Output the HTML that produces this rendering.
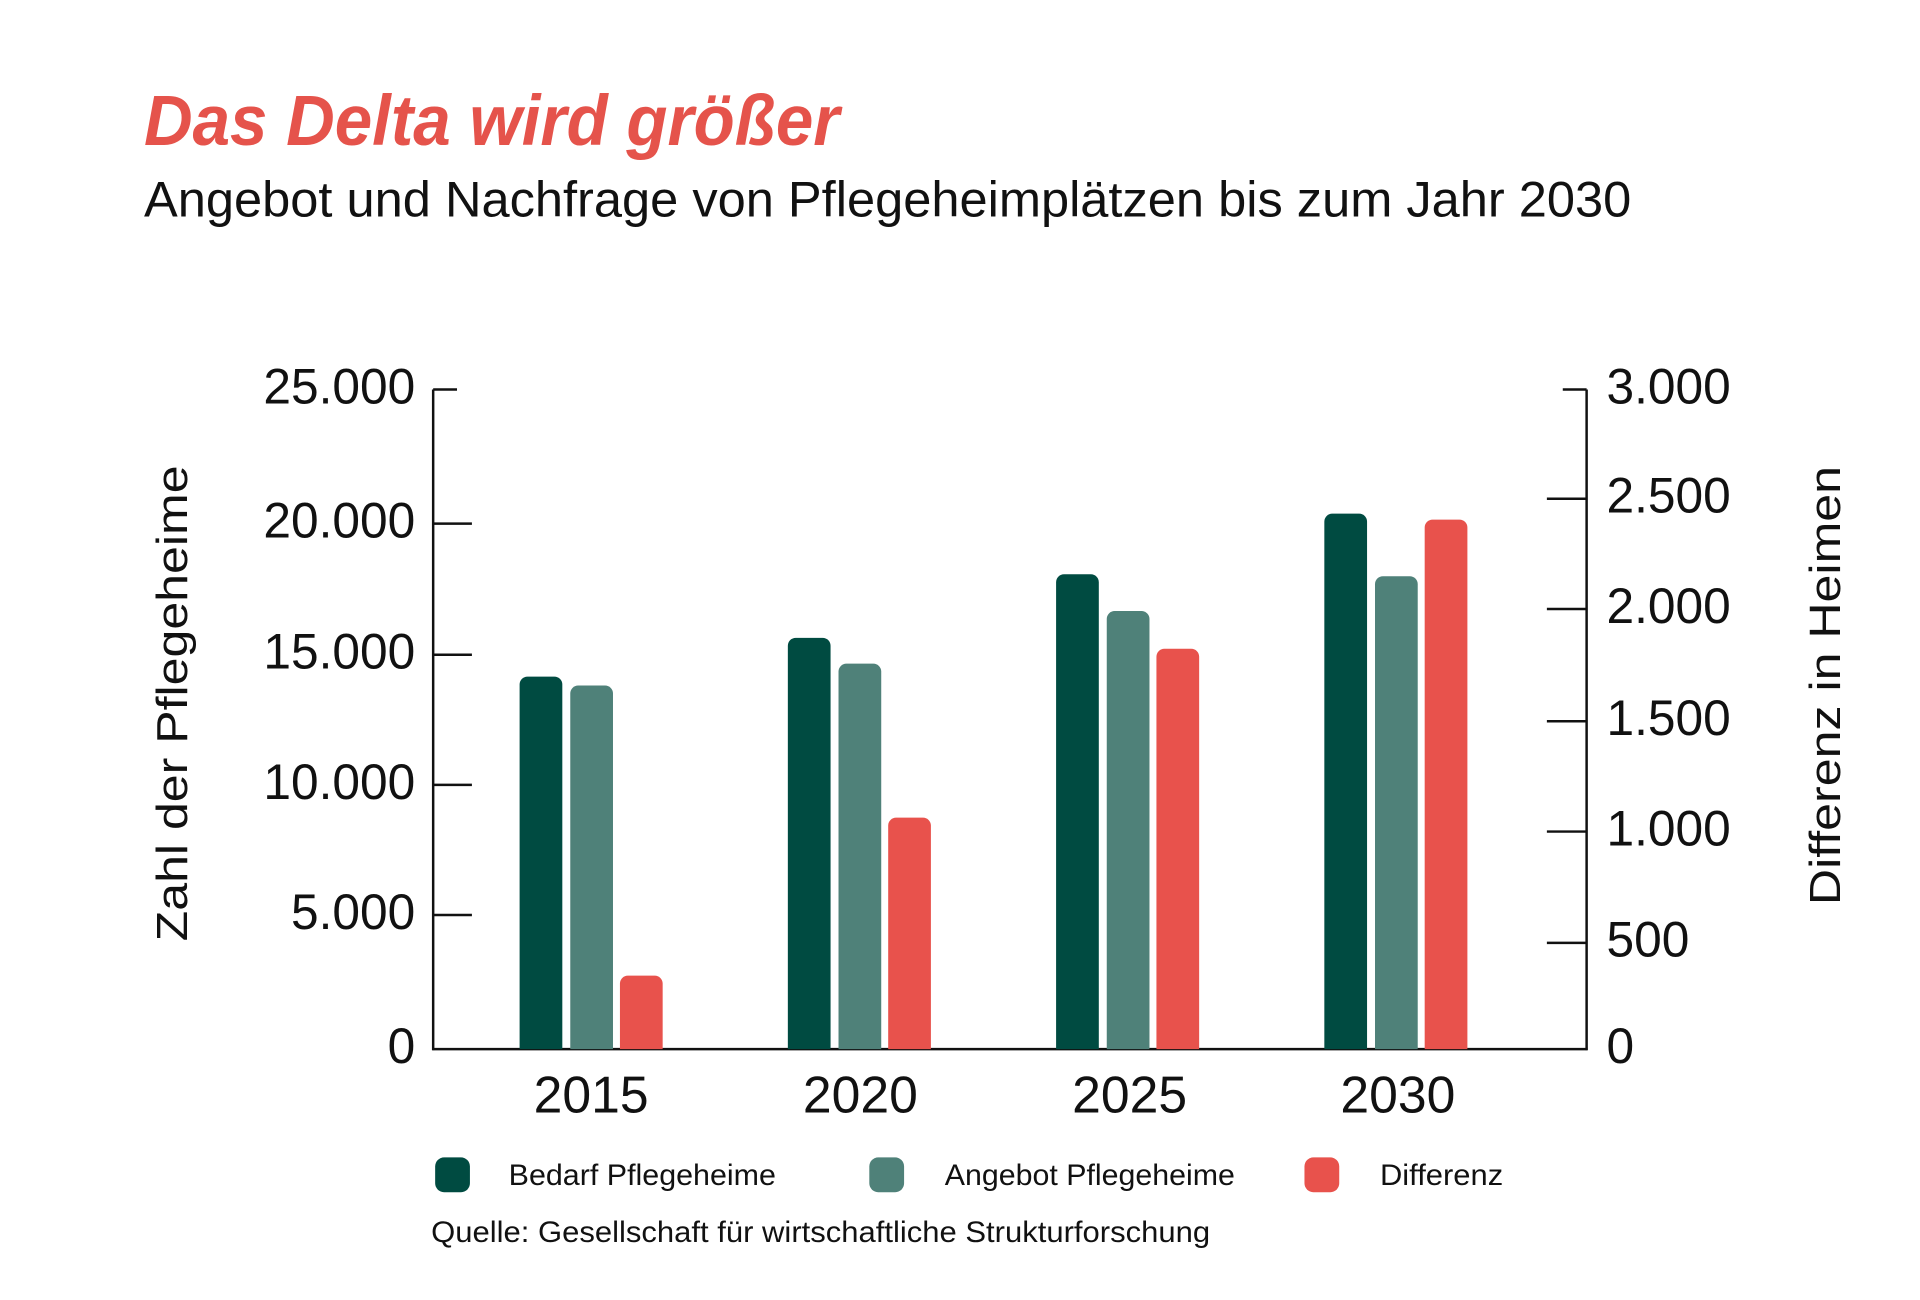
<!DOCTYPE html>
<html><head><meta charset="utf-8"><style>
html,body{margin:0;padding:0;background:#fff;}
svg{display:block;}
text{font-family:"Liberation Sans",sans-serif;}
</style></head><body>
<svg width="1920" height="1300" viewBox="0 0 1920 1300" xmlns="http://www.w3.org/2000/svg">
<rect width="1920" height="1300" fill="#fff"/>
<g transform="scale(0.9935)">
<text x="145" y="146" font-size="72" font-weight="bold" font-style="italic" fill="#e5534b" textLength="700" lengthAdjust="spacingAndGlyphs">Das Delta wird größer</text>
<text x="145" y="218" font-size="50" fill="#111" textLength="1497" lengthAdjust="spacingAndGlyphs">Angebot und Nachfrage von Pflegeheimplätzen bis zum Jahr 2030</text>

<g stroke="#111" stroke-width="2.5" fill="none">
<line x1="436" y1="392" x2="436" y2="1057"/>
<line x1="1597" y1="392" x2="1597" y2="1057"/>
<line x1="435" y1="1056" x2="1598" y2="1056"/>
<line x1="436" y1="392" x2="460" y2="392"/>
<line x1="436" y1="527" x2="475" y2="527"/>
<line x1="436" y1="659" x2="475" y2="659"/>
<line x1="436" y1="790" x2="475" y2="790"/>
<line x1="436" y1="921" x2="475" y2="921"/>
<line x1="1573" y1="392" x2="1597" y2="392"/>
<line x1="1557" y1="502" x2="1597" y2="502"/>
<line x1="1557" y1="613" x2="1597" y2="613"/>
<line x1="1557" y1="726" x2="1597" y2="726"/>
<line x1="1557" y1="837" x2="1597" y2="837"/>
<line x1="1557" y1="949" x2="1597" y2="949"/>
</g>

<g font-size="50" fill="#111" text-anchor="end">
<text x="418" y="406">25.000</text>
<text x="418" y="541">20.000</text>
<text x="418" y="673">15.000</text>
<text x="418" y="804">10.000</text>
<text x="418" y="935">5.000</text>
<text x="418" y="1070">0</text>
</g>
<g font-size="50" fill="#111">
<text x="1617" y="406">3.000</text>
<text x="1617" y="516">2.500</text>
<text x="1617" y="627">2.000</text>
<text x="1617" y="740">1.500</text>
<text x="1617" y="851">1.000</text>
<text x="1617" y="963">500</text>
<text x="1617" y="1070">0</text>
</g>

<text transform="translate(188,708) rotate(-90)" font-size="44" fill="#111" text-anchor="middle" textLength="479" lengthAdjust="spacingAndGlyphs">Zahl der Pflegeheime</text>
<text transform="translate(1852,690) rotate(-90)" font-size="44" fill="#111" text-anchor="middle" textLength="442" lengthAdjust="spacingAndGlyphs">Differenz in Heimen</text>

<g>
<path d="M523,1056V689a8,8 0 0 1 8,-8h27a8,8 0 0 1 8,8V1056Z" fill="#004b41"/>
<path d="M574,1056V698a8,8 0 0 1 8,-8h27a8,8 0 0 1 8,8V1056Z" fill="#4f8179"/>
<path d="M624,1056V990a8,8 0 0 1 8,-8h27a8,8 0 0 1 8,8V1056Z" fill="#e8524c"/>

<path d="M793,1056V650a8,8 0 0 1 8,-8h27a8,8 0 0 1 8,8V1056Z" fill="#004b41"/>
<path d="M844,1056V676a8,8 0 0 1 8,-8h27a8,8 0 0 1 8,8V1056Z" fill="#4f8179"/>
<path d="M894,1056V831a8,8 0 0 1 8,-8h27a8,8 0 0 1 8,8V1056Z" fill="#e8524c"/>

<path d="M1063,1056V586a8,8 0 0 1 8,-8h27a8,8 0 0 1 8,8V1056Z" fill="#004b41"/>
<path d="M1114,1056V623a8,8 0 0 1 8,-8h27a8,8 0 0 1 8,8V1056Z" fill="#4f8179"/>
<path d="M1164,1056V661a8,8 0 0 1 8,-8h27a8,8 0 0 1 8,8V1056Z" fill="#e8524c"/>

<path d="M1333,1056V525a8,8 0 0 1 8,-8h27a8,8 0 0 1 8,8V1056Z" fill="#004b41"/>
<path d="M1384,1056V588a8,8 0 0 1 8,-8h27a8,8 0 0 1 8,8V1056Z" fill="#4f8179"/>
<path d="M1434,1056V531a8,8 0 0 1 8,-8h27a8,8 0 0 1 8,8V1056Z" fill="#e8524c"/>
</g>

<g font-size="52" fill="#111" text-anchor="middle">
<text x="595" y="1120">2015</text>
<text x="866" y="1120">2020</text>
<text x="1137" y="1120">2025</text>
<text x="1407" y="1120">2030</text>
</g>

<rect x="438" y="1165" width="35" height="35" rx="9" fill="#004b41"/>
<rect x="875" y="1165" width="35" height="35" rx="9" fill="#4f8179"/>
<rect x="1313" y="1165" width="35" height="35" rx="9" fill="#e8524c"/>
<g font-size="30" fill="#111">
<text x="512" y="1193" textLength="269" lengthAdjust="spacingAndGlyphs">Bedarf Pflegeheime</text>
<text x="951" y="1193" textLength="292" lengthAdjust="spacingAndGlyphs">Angebot Pflegeheime</text>
<text x="1389" y="1193" textLength="124" lengthAdjust="spacingAndGlyphs">Differenz</text>
<text x="434" y="1250" textLength="784" lengthAdjust="spacingAndGlyphs">Quelle: Gesellschaft für wirtschaftliche Strukturforschung</text>
</g>
</g>
</svg>
</body></html>
